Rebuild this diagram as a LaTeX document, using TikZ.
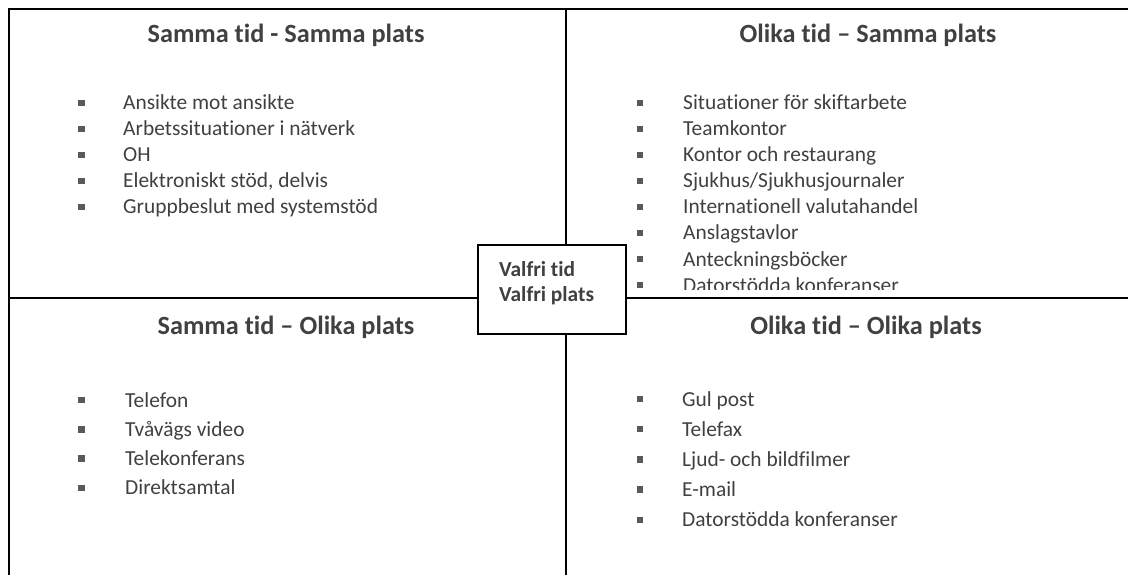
\documentclass[tikz,border=0pt]{standalone}
\usepackage{fontspec}
\setmainfont{Carlito}[Ligatures=NoCommon]
\definecolor{txtgray}{HTML}{404040}
\definecolor{dotgray}{HTML}{595959}

\tikzset{
	grid line/.style={draw=black, line width=1.6pt},
	quadtitle/.style={anchor=base, text=txtgray, inner sep=0pt, font=\fontsize{26.3}{31}\selectfont\bfseries},
	itemtext/.style={anchor=base west, text=txtgray, inner sep=0pt, font=\fontsize{21.4}{25}\selectfont},
	bulletsq/.style={fill=dotgray, minimum size=6.5pt, inner sep=0pt},
	centerbox/.style={draw=black, line width=1.5pt, fill=white, minimum width=148pt, minimum height=89pt, inner sep=0pt},
	boxtext/.style={anchor=base west, inner sep=0pt, text=txtgray, font=\fontsize{21.4}{25}\selectfont\bfseries}
}

\begin{document}
\begin{tikzpicture}[x=1pt, y=-1pt]
		\useasboundingbox (0,0) rectangle (1128,575);
		% frame and cross
		\coordinate (tl) at (9,9);
		\coordinate (tr) at (1128,9);
		\coordinate (bl) at (9,575);
		\coordinate (mt) at (566,9);
		\coordinate (mb) at (566,575);
		\coordinate (ml) at (9,298);
		\coordinate (mr) at (1128,298);
		\draw[grid line] (tr) -- (tl) -- (bl);
		\draw[grid line] (mt) -- (mb);
		\draw[grid line] (ml) -- (mr);

		% titles
		\node[quadtitle] (ttl) at (286,43) {Samma tid - Samma plats};
		\node[quadtitle] (ttr) at (868,43) {Olika tid – Samma plats};
		\node[quadtitle] (tbl) at (286,334) {Samma tid – Olika plats};
		\node[quadtitle] (tbr) at (866,334) {Olika tid – Olika plats};

		% samma tid - samma plats
		\foreach \t [count=\i] in {Ansikte mot ansikte, Arbetssituationer i nätverk, OH, {Elektroniskt stöd, delvis}, Gruppbeslut med systemstöd} {
			\node[bulletsq] (ba\i) at (81.5,{103+26*(\i-1)}) {};
			\node[itemtext] (ia\i) at (123,{110+26*(\i-1)}) {\t};
		}

		% olika tid - samma plats (cut off above the middle line)
		\begin{scope}
			\clip (567,10) rectangle (1128,289);
			\foreach \t [count=\i] in {Situationer för skiftarbete, Teamkontor, Kontor och restaurang, Sjukhus/Sjukhusjournaler, Internationell valutahandel, Anslagstavlor, Anteckningsböcker, Datorstödda konferanser} {
				\node[bulletsq] (bb\i) at (640,{103+26*(\i-1)}) {};
				\node[itemtext] (ib\i) at (683,{110+26*(\i-1)}) {\t};
			}
		\end{scope}

		% samma tid - olika plats
		\foreach \t [count=\i] in {Telefon, Tvåvägs video, Telekonferans, Direktsamtal} {
			\node[bulletsq] (bc\i) at (81.5,{400+29.3*(\i-1)}) {};
			\node[itemtext] (ic\i) at (125,{407+29.3*(\i-1)}) {\t};
		}

		% olika tid - olika plats
		\foreach \t [count=\i] in {Gul post, Telefax, Ljud- och bildfilmer, E-mail, Datorstödda konferanser} {
			\node[bulletsq] (bd\i) at (640,{399+30.2*(\i-1)}) {};
			\node[itemtext] (id\i) at (682,{406+30.2*(\i-1)}) {\t};
		}

		% centre box
		\node[centerbox] (valfri) at (552,289.5) {};
		\node[boxtext] (vtid) at (499,276) {Valfri tid};
		\node[boxtext] (vplats) at (499,301.5) {Valfri plats};
	\end{tikzpicture}
\end{document}
